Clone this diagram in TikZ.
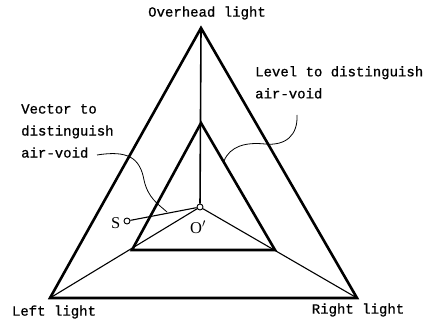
\documentclass[tikz,border=0pt]{standalone}
\usepackage{fontspec}
\setmainfont{Liberation Serif}
\setmonofont[FakeBold=0.8]{Liberation Mono}
\usetikzlibrary{positioning, calc}

\begin{document}
\begin{tikzpicture}[
		x=1pt, y=-1pt,
		font=\ttfamily\fontsize{14}{22}\selectfont,
		% Triangle styles
		frame/.style={line width=2.6pt, line join=miter},
		axis/.style={line width=1.6pt},
		ray/.style={line width=1.1pt},
		% Pointer and marker styles
		pointer/.style={line width=0.8pt},
		marker/.style={draw, circle, fill=white, line width=0.9pt, minimum size=6pt, inner sep=0pt},
		pt/.style={font=\rmfamily\fontsize{16.5}{18}\selectfont, inner sep=0pt},
		lbl/.style={inner sep=0pt, align=left}
		]
		\useasboundingbox (0,0) rectangle (436,331);
		
		% --- VERTICES ---
		\coordinate (top) at (201,28);
		\coordinate (left) at (50,298);
		\coordinate (right) at (357,298);
		\coordinate (itop) at (201,123);
		\coordinate (ileft) at (132,250);
		\coordinate (iright) at (275,250);
		
		% Markers S and O'
		\node[marker] (Oc) at (200,207) {};
		\node[marker] (Sc) at (127,221) {};
		\node[pt, left=3pt of Sc, yshift=-2pt] (S) {S};
		\node[pt] (O) at (198,227) {O$'$};
		
		% --- TRIANGLES ---
		\draw[frame] (top) -- (left) -- (right) -- cycle;
		\draw[frame] (itop) -- (ileft) -- (iright) -- cycle;
		
		% Rays from O'
		\draw[axis] (top) -- (Oc);
		\draw[ray] (left) -- (Oc);
		\draw[ray] (Oc) -- (right);
		\draw[ray] (Sc) -- (Oc);
		
		% --- LABELS ---
		\node[lbl] (lblTop) at (207,13) {Overhead light};
		\node[lbl] (lblLeft) at (54,312) {Left light};
		\node[lbl] (lblRight) at (358,310) {Right light};
		\node[lbl, anchor=north west] (lblLevel) at (255,66) {Level to distinguish\\air-void};
		\node[lbl, anchor=north west] (lblVector) at (21,104) {Vector to\\distinguish\\air-void};
		
		% Pointers
		\coordinate (levStart) at (297,115);
		\coordinate (levEnd) at (224,161);
		\coordinate (vecStart) at (97,155);
		\coordinate (vecEnd) at (167,212);
		\draw[pointer] (levStart) .. controls (298,135) and (286,146) .. (265,144)
		.. controls (246,142) and (230,146) .. (levEnd);
		\draw[pointer] (vecStart) .. controls (128,150) and (140,158) .. (144,180)
		.. controls (148,198) and (158,204) .. (vecEnd);
		
	\end{tikzpicture}
\end{document}
